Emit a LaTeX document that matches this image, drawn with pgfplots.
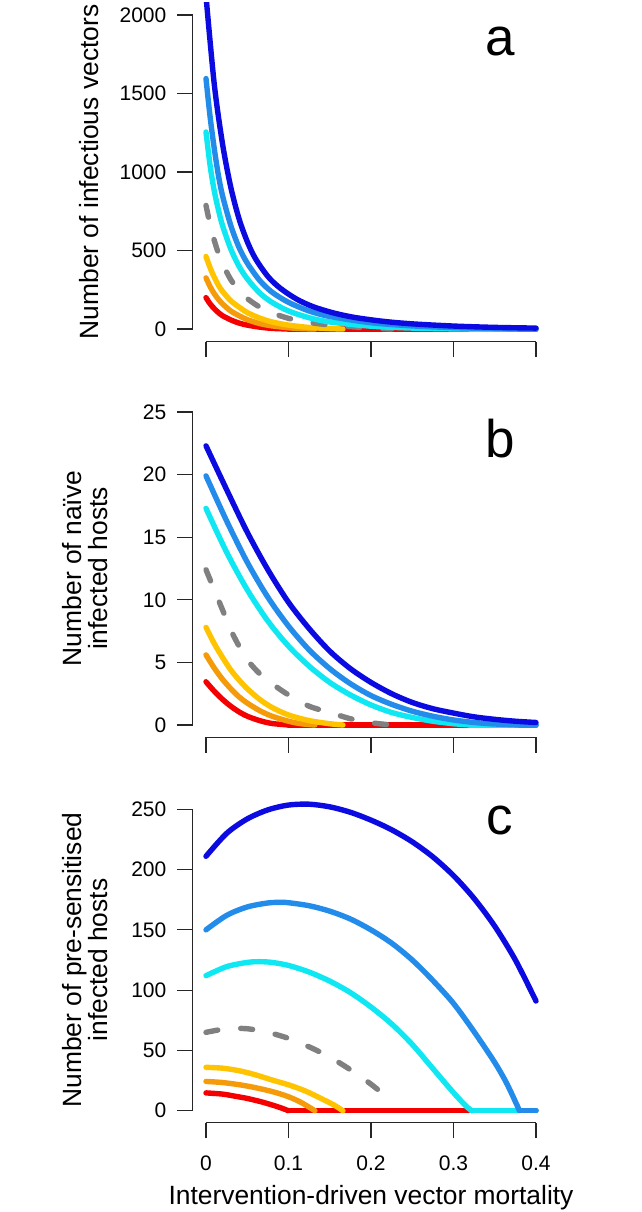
\documentclass[border=0pt]{standalone}
\usepackage{fontspec}
\setmainfont{Liberation Sans}
\usepackage{pgfplots}
\pgfplotsset{compat=1.18}

\definecolor{cDB}{RGB}{10,10,225}
\definecolor{cMB}{RGB}{35,140,235}
\definecolor{cCY}{RGB}{15,232,242}
\definecolor{cGR}{RGB}{128,128,128}
\definecolor{cGO}{RGB}{255,195,0}
\definecolor{cOR}{RGB}{245,155,10}
\definecolor{cRE}{RGB}{245,0,0}

\pgfplotsset{
  panel/.style={
    scale only axis, width=178.2pt,
    xmin=-0.016, xmax=0.416,
    anchor=south west,
    axis x line*=bottom, axis y line*=left,
    axis line style={-, line width=0.6pt, black!85},
    x axis line style={shorten <=6.6pt, shorten >=6.6pt},
    tick align=outside, major tick length=7.75pt,
    every tick/.style={black!85, line width=0.6pt},
    xtick={0,0.1,0.2,0.3,0.4},
    ticklabel style={font=\fontsize{10.5}{12}\selectfont},
    yticklabel style={inner xsep=5.3pt},
    xticklabel style={yshift=-5pt},
    no markers,
    every axis plot/.append style={line width=2.7pt, line join=round, line cap=round},
  },
  dashg/.style={cGR, dash pattern=on 6pt off 11.5pt},
}

\begin{document}
\begin{tikzpicture}
%================ panel a
\begin{axis}[panel, at={(96.4pt,435.2pt)}, height=169.6pt,
  ymin=-80, ymax=2080,
  y axis line style={shorten <=6.28pt, shorten >=6.28pt},
  ytick={0,500,1000,1500,2000}, yticklabels={0,500,1000,1500,2000},
  xticklabels={}]
\addplot[cRE, smooth] coordinates {(0,200)(0.005,160)(0.01,130)(0.015,105)(0.02,85)(0.03,58)(0.04,38)(0.05,25)(0.065,12)(0.08,4)(0.1,0)};
\addplot[cRE] coordinates {(0.1,0)(0.4,0)};
\addplot[cOR, smooth] coordinates {(0,326)(0.005,270)(0.01,225)(0.015,190)(0.02,160)(0.03,115)(0.04,85)(0.05,60)(0.065,35)(0.08,20)(0.1,8)(0.115,3)(0.132,0)};
\addplot[cGO, smooth] coordinates {(0,462)(0.005,390)(0.01,330)(0.015,280)(0.02,240)(0.03,180)(0.04,140)(0.05,105)(0.065,70)(0.08,45)(0.1,25)(0.125,10)(0.15,3)(0.166,0)};
\addplot[dashg, smooth] coordinates {(0,787)(0.005,664)(0.01,565)(0.015,483)(0.02,416)(0.03,315)(0.04,245)(0.05,194)(0.065,140)(0.08,103)(0.1,68)(0.125,42)(0.15,26)(0.175,15)(0.2,6.5)(0.225,0)};
\addplot[cCY, smooth] coordinates {(0,1255)(0.005,1040)(0.01,880)(0.015,760)(0.02,660)(0.03,510)(0.04,400)(0.05,320)(0.065,230)(0.08,170)(0.1,115)(0.125,72)(0.15,45)(0.2,18)(0.25,6)(0.3,1)(0.32,0)};
\addplot[cCY] coordinates {(0.32,0)(0.4,0)};
\addplot[cMB, smooth] coordinates {(0,1595)(0.005,1350)(0.01,1150)(0.015,980)(0.02,850)(0.03,660)(0.04,520)(0.05,420)(0.065,310)(0.08,235)(0.1,170)(0.125,115)(0.15,80)(0.2,40)(0.25,20)(0.3,9)(0.35,3)(0.38,0)};
\addplot[cMB] coordinates {(0.38,0)(0.4,0)};
\addplot[cDB, smooth] coordinates {(0,2120)(0.01,1560)(0.02,1180)(0.03,904)(0.04,703)(0.05,557)(0.06,448)(0.075,335)(0.09,260)(0.11,190)(0.13,142)(0.155,102)(0.18,74)(0.215,49)(0.25,33)(0.3,19)(0.35,10.5)(0.4,6)};
\end{axis}
%================ panel b
\begin{axis}[panel, at={(96.4pt,237.25pt)}, height=169pt,
  ymin=-1, ymax=26,
  y axis line style={shorten <=6.26pt, shorten >=6.26pt},
  ytick={0,5,10,15,20,25}, yticklabels={0,5,10,15,20,25},
  xticklabels={}]
\addplot[cRE, smooth] coordinates {(0,3.45)(0.01,2.7)(0.02,2.05)(0.03,1.5)(0.04,1.05)(0.05,0.7)(0.065,0.35)(0.08,0.12)(0.1,0)};
\addplot[cRE] coordinates {(0.1,0)(0.4,0)};
\addplot[cOR, smooth] coordinates {(0,5.6)(0.01,4.55)(0.02,3.65)(0.03,2.9)(0.04,2.25)(0.05,1.75)(0.065,1.15)(0.08,0.7)(0.1,0.3)(0.115,0.1)(0.132,0)};
\addplot[cGO, smooth] coordinates {(0,7.8)(0.01,6.5)(0.02,5.4)(0.03,4.4)(0.04,3.6)(0.05,2.9)(0.065,2.05)(0.08,1.4)(0.1,0.8)(0.125,0.35)(0.15,0.1)(0.166,0)};
\addplot[dashg, smooth] coordinates {(0,12.4)(0.01,10.8)(0.02,9.2)(0.03,7.6)(0.04,6.3)(0.05,5.2)(0.065,4.1)(0.08,3.3)(0.1,2.4)(0.125,1.5)(0.15,1.0)(0.175,0.5)(0.2,0.18)(0.225,0)};
\addplot[cCY, smooth] coordinates {(0,17.3)(0.025,13.8)(0.05,10.8)(0.075,8.3)(0.1,6.3)(0.125,4.7)(0.15,3.4)(0.175,2.4)(0.2,1.6)(0.225,1.0)(0.25,0.6)(0.275,0.3)(0.3,0.1)(0.32,0)};
\addplot[cCY] coordinates {(0.32,0)(0.4,0)};
\addplot[cMB, smooth] coordinates {(0,19.9)(0.025,16.3)(0.05,13.0)(0.075,10.2)(0.1,7.9)(0.125,6.0)(0.15,4.5)(0.175,3.3)(0.2,2.35)(0.225,1.65)(0.25,1.1)(0.275,0.7)(0.3,0.4)(0.325,0.2)(0.35,0.08)(0.38,0)};
\addplot[cMB] coordinates {(0.38,0)(0.4,0)};
\addplot[cDB, smooth] coordinates {(0,22.3)(0.025,18.8)(0.05,15.4)(0.075,12.4)(0.1,9.8)(0.125,7.7)(0.15,5.9)(0.175,4.5)(0.2,3.4)(0.225,2.5)(0.25,1.8)(0.275,1.3)(0.3,0.95)(0.325,0.65)(0.35,0.45)(0.375,0.3)(0.4,0.2)};
\end{axis}
%================ panel c
\begin{axis}[panel, at={(96.4pt,44.6pt)}, height=162.8pt,
  ymin=-10, ymax=260,
  y axis line style={shorten <=6.03pt, shorten >=6.03pt},
  ytick={0,50,100,150,200,250}, yticklabels={0,50,100,150,200,250},
  xticklabels={0,0.1,0.2,0.3,0.4}]
\addplot[cRE, smooth] coordinates {(0,14.8)(0.02,13.8)(0.034,12.2)(0.05,10.2)(0.0665,7.5)(0.08,4.8)(0.09,2.6)(0.1,0)};
\addplot[cRE] coordinates {(0.1,0)(0.4,0)};
\addplot[cOR, smooth] coordinates {(0,24.3)(0.02,23.4)(0.04,21.6)(0.055,19.8)(0.07,17.6)(0.085,15)(0.1,11.6)(0.115,7)(0.132,0)};
\addplot[cGO, smooth] coordinates {(0,36)(0.02,35.3)(0.04,33.2)(0.06,29.8)(0.08,25.5)(0.1,21.5)(0.12,16.5)(0.14,10)(0.155,4.8)(0.166,0)};
\addplot[dashg, smooth] coordinates {(0,65)(0.025,68)(0.05,68)(0.075,65)(0.1,60)(0.125,53)(0.15,44.5)(0.175,34)(0.2,22)(0.219,11.5)};
\addplot[cCY, smooth] coordinates {(0,112)(0.025,119.5)(0.05,123)(0.065,123.6)(0.08,123)(0.1,120.5)(0.125,115)(0.15,107.5)(0.175,98)(0.2,86)(0.225,72)(0.25,55)(0.275,35)(0.3,15)(0.315,4)(0.322,0)};
\addplot[cCY] coordinates {(0.322,0)(0.4,0)};
\addplot[cMB, smooth] coordinates {(0,150)(0.025,162)(0.05,169)(0.075,172.3)(0.09,172.8)(0.1,172.5)(0.125,170)(0.15,165.5)(0.175,159)(0.2,150)(0.225,139)(0.25,125)(0.275,108)(0.3,89)(0.325,65.5)(0.35,40)(0.365,22)(0.38,0)};
\addplot[cMB] coordinates {(0.38,0)(0.4,0)};
\addplot[cDB, smooth] coordinates {(0,211)(0.025,230)(0.05,242)(0.075,249.5)(0.1,253.5)(0.125,254.2)(0.15,252)(0.175,247.5)(0.2,241)(0.225,233)(0.25,223)(0.275,210.5)(0.3,195)(0.325,176)(0.35,153)(0.375,125)(0.4,91)};
\end{axis}
%================ labels
\node[rotate=90, anchor=base, font=\fontsize{13.2}{15}\selectfont] at (49pt,520pt) {Number of infectious vectors};
\node[rotate=90, anchor=base, font=\fontsize{13.2}{15}\selectfont] at (40.5pt,321.75pt) {Number of naïve};
\node[rotate=90, anchor=base, font=\fontsize{13.2}{15}\selectfont] at (53.5pt,321.75pt) {infected hosts};
\node[rotate=90, anchor=base, font=\fontsize{13.2}{15}\selectfont] at (40.5pt,126pt) {Number of pre-sensitised};
\node[rotate=90, anchor=base, font=\fontsize{13.2}{15}\selectfont] at (53.5pt,126pt) {infected hosts};
\node[anchor=base, font=\fontsize{13.2}{15}\selectfont] at (185.5pt,4pt) {Intervention-driven vector mortality};
\node[anchor=base, font=\fontsize{26.5}{30}\selectfont] at (250pt,578pt) {a};
\node[anchor=base, font=\fontsize{26.5}{30}\selectfont] at (250pt,377pt) {b};
\node[anchor=base, font=\fontsize{26.5}{30}\selectfont] at (250pt,188.5pt) {c};
\pgfresetboundingbox
\path[use as bounding box] (0,0) rectangle (321pt,606pt);
\end{tikzpicture}
\end{document}
